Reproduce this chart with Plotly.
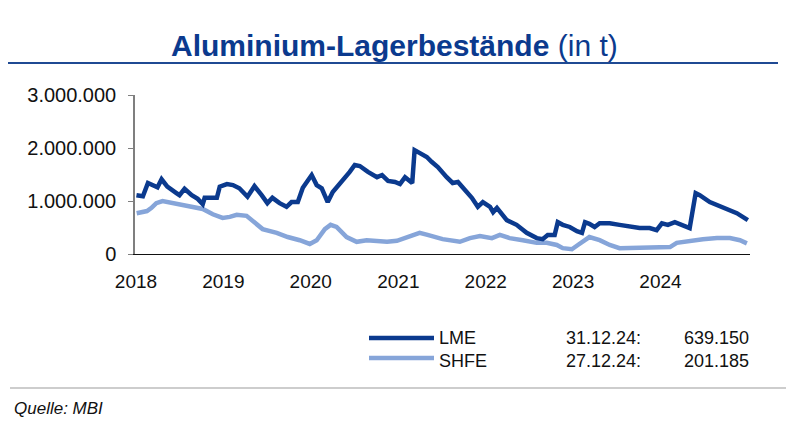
import plotly.graph_objects as go

# ---------------- data ----------------
lme_dates = [
    "2018-01-03", "2018-01-30", "2018-02-20", "2018-03-19", "2018-04-01", "2018-04-18",
    "2018-05-12", "2018-06-19", "2018-07-02", "2018-07-23", "2018-08-22", "2018-09-16",
    "2018-10-07", "2018-10-15", "2018-11-14", "2018-12-05", "2018-12-17", "2019-01-16",
    "2019-02-10", "2019-03-09", "2019-04-12", "2019-05-11", "2019-06-10", "2019-07-04",
    "2019-07-25", "2019-08-24", "2019-09-22", "2019-10-13", "2019-11-08", "2019-11-29",
    "2020-01-05", "2020-01-26", "2020-02-16", "2020-03-12", "2020-04-02", "2020-05-09",
    "2020-06-12", "2020-07-03", "2020-07-24", "2020-08-27", "2020-10-04", "2020-10-25",
    "2020-11-19", "2020-12-18", "2021-01-08", "2021-01-29", "2021-02-28", "2021-03-10",
    "2021-03-31", "2021-04-30", "2021-05-20", "2021-06-15", "2021-07-22", "2021-08-16",
    "2021-09-07", "2021-09-28", "2021-11-04", "2021-11-29", "2021-12-20", "2022-01-19",
    "2022-02-01", "2022-02-17", "2022-03-30", "2022-05-10", "2022-06-21", "2022-08-02",
    "2022-08-27", "2022-09-17", "2022-10-16", "2022-10-29", "2022-11-19", "2022-12-18",
    "2023-01-17", "2023-02-07", "2023-02-20", "2023-03-10", "2023-04-01", "2023-04-22",
    "2023-06-03", "2023-07-14", "2023-08-25", "2023-10-06", "2023-11-17", "2023-12-16",
    "2024-01-07", "2024-02-01", "2024-03-01", "2024-03-30", "2024-05-02", "2024-05-27",
    "2024-06-13", "2024-07-25", "2024-09-18", "2024-11-15", "2024-12-31",
]
lme_values = [
    1110000, 1090000, 1340000, 1300000, 1260000, 1410000,
    1270000, 1150000, 1110000, 1230000, 1110000, 1040000,
    940000, 1060000, 1070000, 1060000, 1270000, 1320000,
    1300000, 1240000, 1080000, 1280000, 1110000, 960000,
    1060000, 960000, 890000, 980000, 980000, 1250000,
    1490000, 1300000, 1240000, 980000, 1170000, 1360000,
    1550000, 1680000, 1660000, 1550000, 1450000, 1490000,
    1380000, 1360000, 1320000, 1450000, 1340000, 1960000,
    1900000, 1830000, 1740000, 1640000, 1450000, 1340000,
    1360000, 1260000, 1060000, 890000, 980000, 890000,
    790000, 870000, 640000, 550000, 400000, 300000,
    280000, 360000, 360000, 600000, 550000, 510000,
    430000, 400000, 600000, 570000, 510000, 580000,
    580000, 550000, 510000, 490000, 490000, 450000,
    580000, 550000, 600000, 550000, 490000, 1150000,
    1110000, 980000, 870000, 770000, 639150,
]

shfe_dates = [
    "2018-01-04", "2018-02-16", "2018-03-07", "2018-03-27", "2018-04-22", "2018-06-03",
    "2018-07-14", "2018-08-26", "2018-10-07", "2018-11-18", "2018-12-29", "2019-01-28",
    "2019-02-26", "2019-04-08", "2019-05-11", "2019-06-14", "2019-08-12", "2019-09-27",
    "2019-11-16", "2019-12-28", "2020-01-26", "2020-02-29", "2020-03-24", "2020-04-18",
    "2020-05-30", "2020-07-11", "2020-08-22", "2020-10-04", "2020-11-15", "2020-12-26",
    "2021-02-11", "2021-03-31", "2021-05-03", "2021-06-10", "2021-07-05", "2021-09-15",
    "2021-10-27", "2021-12-08", "2022-01-27", "2022-03-01", "2022-04-11", "2022-06-05",
    "2022-08-02", "2022-09-13", "2022-10-25", "2022-11-19", "2022-12-27", "2023-01-21",
    "2023-02-28", "2023-03-10", "2023-04-22", "2023-06-03", "2023-07-14", "2023-09-07",
    "2023-11-05", "2023-12-29", "2024-02-10", "2024-03-09", "2024-05-02", "2024-06-26",
    "2024-08-24", "2024-10-17", "2024-11-28", "2024-12-27",
]
shfe_values = [
    770000, 810000, 870000, 960000, 1000000, 960000,
    920000, 890000, 850000, 750000, 680000, 700000,
    740000, 720000, 600000, 470000, 400000, 320000,
    260000, 190000, 260000, 470000, 550000, 510000,
    320000, 230000, 260000, 250000, 230000, 250000,
    320000, 400000, 360000, 300000, 280000, 230000,
    300000, 340000, 300000, 360000, 300000, 260000,
    210000, 210000, 170000, 110000, 90000, 170000,
    300000, 320000, 260000, 170000, 110000, 110000,
    130000, 110000, 130000, 210000, 250000, 280000,
    300000, 300000, 260000, 201185,
]

series_names = ["LME", "SHFE"]
last_dates = ["31.12.24", "27.12.24"]
year_ticks = ["2018-01-01", "2019-01-01", "2020-01-01", "2021-01-01",
              "2022-01-01", "2023-01-01", "2024-01-01"]
year_labels = ["2018", "2019", "2020", "2021", "2022", "2023", "2024"]
y_ticks = [0, 1000000, 2000000, 3000000]

# ---------------- style ----------------
DARK = "#0B3A8E"
LIGHT = "#86A5D9"
FONT = "Liberation Sans, Arial, sans-serif"

OFF = 8                  # page body margin of the rendered html
W, H = 800 - 2 * OFF, 428 - 2 * OFF
L, R = 135, 750          # plot area bounds in reference pixels
T, B = 95, 254


def px(x):
    return (x - L) / (R - L)


def py(y):
    return (B - y) / (B - T)


def de(n):
    return f"{n:,}".replace(",", ".")


fig = go.Figure()
fig.add_trace(go.Scatter(x=shfe_dates, y=shfe_values, mode="lines", name=series_names[1],
                         line=dict(color=LIGHT, width=4.5), showlegend=False))
fig.add_trace(go.Scatter(x=lme_dates, y=lme_values, mode="lines", name=series_names[0],
                         line=dict(color=DARK, width=4.5), showlegend=False))

shapes = []
annotations = []

# title + underline
annotations.append(dict(
    text="<b>Aluminium-Lagerbestände</b> (in t)", x=px(394), y=py(45),
    xref="paper", yref="paper", xanchor="center", yanchor="middle", showarrow=False,
    font=dict(family=FONT, size=30, color=DARK)))
shapes.append(dict(type="line", xref="paper", yref="paper", x0=px(8), x1=px(778),
                   y0=py(63), y1=py(63), line=dict(color="#1F4A93", width=2)))

# legend block
for yy, col in [(338, DARK), (358, LIGHT)]:
    shapes.append(dict(type="line", xref="paper", yref="paper", x0=px(369), x1=px(434),
                       y0=py(yy), y1=py(yy), line=dict(color=col, width=4.5)))
legend_font = dict(family=FONT, size=18, color="#111111")
annotations.append(dict(text="<br>".join(series_names), x=px(437), y=py(349),
                        xref="paper", yref="paper", xanchor="left", yanchor="middle",
                        align="left", showarrow=False, font=legend_font))
annotations.append(dict(text="<br>".join(d + ":" for d in last_dates), x=px(643), y=py(349),
                        xref="paper", yref="paper", xanchor="right", yanchor="middle",
                        align="right", showarrow=False, font=legend_font))
annotations.append(dict(text="<br>".join([de(lme_values[-1]), de(shfe_values[-1])]),
                        x=px(751), y=py(349), xref="paper", yref="paper",
                        xanchor="right", yanchor="middle", align="right",
                        showarrow=False, font=legend_font))

# source separator + source
shapes.append(dict(type="line", xref="paper", yref="paper", x0=px(10), x1=px(786),
                   y0=py(388), y1=py(388), line=dict(color="#BDBDBD", width=1.5)))
annotations.append(dict(text="<i>Quelle: MBI</i>", x=px(12), y=py(408), xref="paper", yref="paper",
                        xanchor="left", yanchor="middle", showarrow=False,
                        font=dict(family=FONT, size=17, color="#111111")))

fig.update_layout(
    width=W, height=H, autosize=False,
    margin=dict(l=L - OFF, r=W - (R - OFF), t=T - OFF, b=H - (B - OFF), pad=0),
    paper_bgcolor="white", plot_bgcolor="white",
    separators=",.",
    font=dict(family=FONT, size=19, color="#111111"),
    shapes=shapes, annotations=annotations,
    showlegend=False,
)
fig.update_xaxes(
    type="date", range=["2017-12-28", "2025-01-09"],
    tickmode="array", tickvals=year_ticks, ticktext=year_labels,
    showgrid=False, zeroline=False,
    showline=True, linecolor="#111111", linewidth=1.2,
    ticks="outside", ticklen=10, tickcolor="rgba(0,0,0,0)",
    tickfont=dict(family=FONT, size=19, color="#111111"),
)
fig.update_yaxes(
    range=[0, 3000000], tickmode="array", tickvals=y_ticks, tickformat=",d",
    showgrid=False, zeroline=False,
    showline=True, linecolor="#7F7F7F", linewidth=1.5,
    ticks="outside", ticklen=5, tickcolor="#7F7F7F", tickwidth=1.2,
    ticklabelstandoff=8,
    tickfont=dict(family=FONT, size=20, color="#111111"),
)

fig.write_html("out.html")
